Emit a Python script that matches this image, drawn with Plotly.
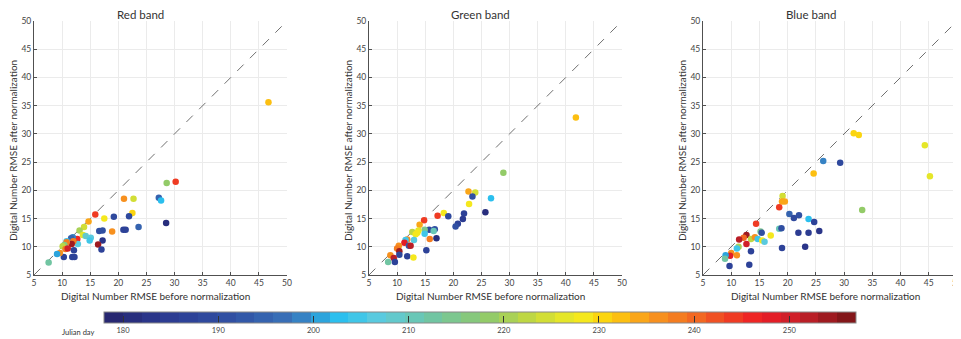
import plotly.graph_objects as go

# ---------------- data ----------------
red_x = [46.7, 28.6, 30.2, 21.0, 22.7, 27.2, 27.6, 22.5, 15.9, 17.5, 19.2, 21.9, 14.7, 28.5, 23.6, 13.9,
         13.1, 16.6, 17.2, 18.9, 20.9, 21.3, 13.7, 14.2, 15.1, 14.9, 17.2, 12.7, 12.8, 11.9, 11.6, 12.0,
         11.7, 10.8, 10.8, 10.4, 10.1, 10.6, 11.0, 12.1, 16.4, 17.0, 10.3, 11.8, 12.2, 9.6, 9.1, 7.6]
red_y = [35.6, 21.3, 21.5, 18.5, 18.5, 18.7, 18.2, 16.0, 15.7, 15.0, 15.3, 15.4, 14.5, 14.2, 13.5, 13.5,
         12.9, 12.8, 12.9, 12.7, 13.0, 13.0, 12.1, 11.9, 11.6, 11.1, 11.1, 11.4, 10.5, 11.7, 11.5, 11.0,
         10.5, 11.0, 10.8, 10.3, 10.1, 9.6, 9.7, 9.4, 10.4, 9.5, 8.2, 8.2, 8.2, 8.9, 8.7, 7.2]
red_day = [232, 218, 245, 236, 224, 195, 203, 231, 245, 229, 188, 188, 235, 180, 195, 224,
           220, 190, 190, 237, 186, 186, 227, 208, 207, 205, 183, 247, 206, 198, 195, 238,
           255, 205, 238, 216, 222, 238, 250, 187, 254, 186, 186, 187, 186, 237, 200, 212]

green_x = [41.8, 28.9, 22.7, 23.9, 23.4, 26.7, 22.8, 25.7, 21.9, 18.3, 17.2, 19.1, 21.7, 14.8, 20.8,
           20.4, 14.0, 16.7, 15.7, 14.9, 16.5, 13.8, 12.7, 13.6, 13.3, 14.9, 17.0, 15.8, 13.0, 11.8,
           11.5, 11.3, 12.1, 12.4, 10.3, 10.0, 10.4, 10.4, 11.8, 15.2, 12.9, 8.8, 9.4, 9.6, 8.4]
green_y = [32.9, 23.1, 19.8, 19.6, 18.9, 18.6, 17.6, 16.1, 15.9, 16.0, 15.5, 15.4, 14.9, 14.7, 14.1,
           13.6, 13.9, 13.1, 13.0, 13.0, 12.8, 12.9, 12.6, 12.5, 12.2, 12.3, 11.5, 11.4, 11.2, 11.3,
           11.2, 10.7, 10.2, 10.2, 10.2, 9.7, 9.2, 8.6, 8.3, 9.4, 8.1, 8.5, 8.0, 7.3, 7.3]
green_day = [232, 218, 235, 224, 190, 203, 229, 181, 187, 229, 245, 188, 185, 245, 186,
             190, 234, 190, 188, 215, 210, 227, 222, 228, 228, 205, 181, 238, 207, 237,
             205, 248, 192, 253, 237, 238, 254, 188, 186, 187, 228, 236, 252, 186, 212]

blue_x = [44.3, 45.2, 31.7, 32.6, 26.3, 29.3, 24.6, 33.2, 19.1, 19.0, 19.5, 18.5, 20.3, 21.1, 22.0,
          23.7, 24.7, 14.4, 18.5, 18.9, 15.2, 15.4, 21.9, 23.7, 25.6, 12.7, 12.2, 13.5, 14.2, 11.4,
          14.7, 15.5, 15.9, 17.0, 12.7, 11.3, 11.0, 13.5, 19.0, 23.1, 10.0, 11.0, 9.8, 9.0, 8.9,
          9.7, 13.2]
blue_y = [28.0, 22.5, 30.1, 29.8, 25.2, 24.9, 23.0, 16.5, 19.0, 18.0, 18.0, 17.0, 15.8, 15.1, 15.6,
          14.9, 14.4, 14.1, 13.2, 13.3, 12.7, 12.5, 12.5, 12.5, 12.8, 12.1, 11.6, 11.4, 11.7, 11.3,
          11.4, 11.1, 10.9, 12.0, 10.5, 10.0, 9.7, 9.2, 9.8, 10.0, 8.9, 8.5, 8.4, 8.5, 7.9,
          6.6, 6.8]
blue_day = [226, 226, 231, 231, 198, 188, 233, 218, 224, 234, 234, 245, 195, 188, 190,
            203, 187, 245, 210, 190, 215, 190, 185, 185, 183, 254, 240, 222, 237, 252,
            205, 228, 207, 228, 250, 221, 205, 187, 186, 182, 237, 237, 248, 200, 212,
            187, 187]

titles = ["Red band", "Green band", "Blue band"]
x_title = "Digital Number RMSE before normalization"
y_title = "Digital Number RMSE after normalization"
cbar_title = "Julian day"
tick_vals = [5, 10, 15, 20, 25, 30, 35, 40, 45, 50]
cbar_ticks = [180, 190, 200, 210, 220, 230, 240, 250]
day_min, day_max = 178, 257

# colour anchors (Julian day, colour)
anchors = [(178, "#26246b"), (184, "#2b3990"), (192, "#3153a5"), (198, "#3a75bb"),
           (201, "#2aa9e0"), (203, "#2bc3f0"), (207, "#5ecbdd"), (212, "#6ec5a8"),
           (218, "#8ec96d"), (223, "#c4d93e"), (228, "#f4ec1f"), (231, "#fdcf0b"),
           (235, "#f99d1c"), (240, "#f26a22"), (244, "#ef3d23"), (247, "#ed1c24"),
           (251, "#c8202a"), (257, "#761416")]


def hex2rgb(h):
    h = h.lstrip("#")
    return tuple(int(h[i:i + 2], 16) for i in (0, 2, 4))


def interp(d):
    for (d0, c0), (d1, c1) in zip(anchors[:-1], anchors[1:]):
        if d0 <= d <= d1:
            t = (d - d0) / (d1 - d0)
            a, b = hex2rgb(c0), hex2rgb(c1)
            return "rgb(%d,%d,%d)" % tuple(round(a[i] + (b[i] - a[i]) * t) for i in range(3))
    return anchors[-1][1]


# stepped colour scale (like the reference's discrete bar)
nsteps = 40
cs = []
for i in range(nsteps):
    d = day_min + (i + 0.5) * (day_max - day_min) / nsteps
    c = interp(d)
    cs.append([i / nsteps, c])
    cs.append([(i + 1) / nsteps, c])

FONT = "Lato, sans-serif"
fig = go.Figure()

data = [(red_x, red_y, red_day), (green_x, green_y, green_day), (blue_x, blue_y, blue_day)]
W, H = 961, 339
OFF = 8  # the page body adds an 8 px margin; positions below are page pixels


def px(x):
    return (x - OFF) / W


def py(y):
    return 1 - (y - OFF) / H


xdoms = [(34, 287), (369, 622), (703, 957)]
title_cx = [140, 480, 811]
ytop, ybot = 21, 275

for i, (xs, ys, ds) in enumerate(data):
    ax = "" if i == 0 else str(i + 1)
    fig.add_trace(go.Scatter(x=[5, 50], y=[5, 50], mode="lines",
                             line=dict(color="#707070", width=1, dash="dash"),
                             xaxis="x" + ax, yaxis="y" + ax, showlegend=False, hoverinfo="skip"))
    fig.add_trace(go.Scatter(x=xs, y=ys, mode="markers",
                             marker=dict(size=6.5, color=ds, coloraxis="coloraxis", line=dict(width=0)),
                             xaxis="x" + ax, yaxis="y" + ax, showlegend=False))
    axis_common = dict(range=[5, 50], tickvals=tick_vals, showgrid=True, gridcolor="#ebebeb",
                       gridwidth=1, zeroline=False, showline=True, linecolor="#505050", linewidth=1,
                       ticks="inside", ticklen=3, tickcolor="#505050", automargin=False,
                       tickfont=dict(family=FONT, size=8.5, color="#444444"))
    fig.layout["xaxis" + ax] = dict(axis_common, domain=[px(xdoms[i][0]), px(xdoms[i][1])],
                                    anchor="y" + ax)
    fig.layout["yaxis" + ax] = dict(axis_common, domain=[py(ybot), py(ytop)],
                                    anchor="x" + ax)
    fig.add_annotation(text=titles[i], x=px(title_cx[i]), y=py(15),
                       xref="paper", yref="paper", xanchor="center", yanchor="middle",
                       showarrow=False, font=dict(family=FONT, size=11.5, color="#333333"))
    fig.add_annotation(text=x_title, x=px((xdoms[i][0] + xdoms[i][1]) / 2 - 5), y=py(296),
                       xref="paper", yref="paper", xanchor="center", yanchor="middle",
                       showarrow=False, font=dict(family=FONT, size=10, color="#333333"))
    fig.add_annotation(text=y_title, x=px(xdoms[i][0] - 21), y=py(151), textangle=-90,
                       xref="paper", yref="paper", xanchor="center", yanchor="middle",
                       showarrow=False, font=dict(family=FONT, size=10, color="#333333"))

fig.add_annotation(text=cbar_title, x=px(96), y=py(332), xref="paper", yref="paper",
                   xanchor="right", yanchor="middle", showarrow=False,
                   font=dict(family=FONT, size=7.5, color="#333333"))

fig.update_layout(
    width=W, height=H, margin=dict(l=0, r=0, t=0, b=0, autoexpand=False),
    paper_bgcolor="white", plot_bgcolor="white",
    coloraxis=dict(colorscale=cs, cmin=day_min, cmax=day_max,
                   colorbar=dict(orientation="h", x=px(480), xanchor="center", y=py(312),
                                 yanchor="top", len=752 / W, lenmode="fraction", thickness=11,
                                 outlinecolor="#888888", outlinewidth=1,
                                 tickvals=cbar_ticks, ticks="inside", ticklen=7, tickcolor="#333333",
                                 tickfont=dict(family=FONT, size=7.5, color="#444444"),
                                 xpad=0, ypad=0)),
)

fig.write_html("out.html")
